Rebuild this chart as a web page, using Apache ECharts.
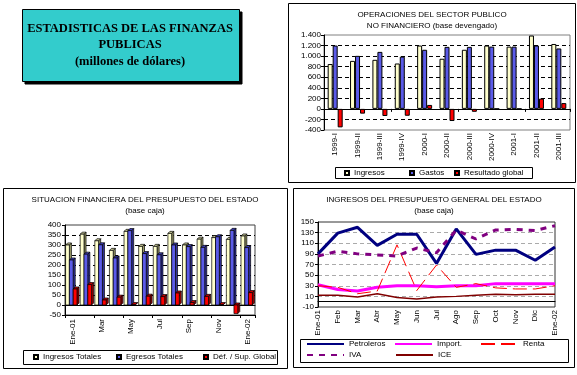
<!DOCTYPE html>
<html><head><meta charset="utf-8">
<script src="https://cdn.jsdelivr.net/npm/echarts@6/dist/echarts.min.js"></script>
<style>html,body{margin:0;padding:0;background:#fff}#c{width:577px;height:375px}</style>
</head><body><div id="c"></div>
<script>
// ---- Chart 1: Operaciones del sector público no financiero ----
const opCategories = ['1999-I','1999-II','1999-III','1999-IV','2000-I','2000-II','2000-III','2000-IV','2001-I','2001-II','2001-III'];
const opIngresos = [850, 910, 930, 860, 1200, 950, 1120, 1200, 1180, 1390, 1230];
const opGastos = [1200, 1005, 1080, 990, 1120, 1175, 1175, 1180, 1180, 1200, 1145];
const opResultado = [-350, -90, -135, -130, 75, -230, -55, 0, 0, 195, 110];

// ---- Chart 2: Situación financiera del presupuesto del estado ----
const sfCategories = ['Ene-01','Feb','Mar','Abr','May','Jun','Jul','Ago','Sep','Oct','Nov','Dic','Ene-02'];
const sfIngresos = [300, 354, 321, 273, 368, 293, 293, 358, 300, 329, 337, 328, 345];
const sfEgresos = [225, 254, 301, 235, 372, 257, 251, 300, 292, 288, 341, 373, 287];
const sfDeficit = [80, 102, 25, 39, 2, 44, 42, 60, 12, 43, 2, -43, 62];

// ---- Chart 3: Ingresos del presupuesto general del estado ----
const ipCategories = ['Ene-01','Feb','Mar','Abr','May','Jun','Jul','Ago','Sep','Oct','Nov','Dic','Ene-02'];
const ipPetroleros = [90, 129, 140, 106, 127, 127, 72, 137, 89, 97, 97, 78, 103];
const ipImport = [32, 23, 20, 27, 30, 30, 28, 30, 30, 34, 34, 34, 34];
const ipRenta = [30, 27, 15, 20, 107, 21, 69, 27, 34, 26, 24, 24, 30];
const ipIVA = [86, 95, 90, 88, 86, 101, 92, 135, 118, 135, 136, 134, 143];
const ipICE = [12, 12, 9, 15, 8, 5, 9, 10, 12, 14, 13, 14, 14];

const FONT = 'Liberation Sans, Arial, sans-serif';
const chart = echarts.init(document.getElementById('c'), null, {renderer: 'canvas'});

function thousands(v) {
  const s = String(Math.abs(v));
  const t = s.length > 3 ? s.slice(0, s.length - 3) + '.' + s.slice(s.length - 3) : s;
  return (v < 0 ? '-' : '') + t;
}

function bar3D(k, front, side, top) {
  return function (params, api) {
    const i = api.value(0), v = api.value(1);
    const band = api.size([1, 0])[0];
    const pz = api.coord([i, 0]);
    const pv = api.coord([i, v]);
    const w = band * 0.26, d = band * 0.14;
    const x0 = pz[0] - (3 * w + d) / 2 + k * w;
    const yTop = Math.min(pz[1], pv[1]), yBot = Math.max(pz[1], pv[1]);
    const st = {stroke: '#000', lineWidth: 0.7};
    return {type: 'group', children: [
      {type: 'polygon', shape: {points: [[x0 + w, yTop], [x0 + w + d, yTop - d], [x0 + w + d, yBot - d], [x0 + w, yBot]]}, style: Object.assign({fill: side}, st)},
      {type: 'polygon', shape: {points: [[x0, yTop], [x0 + d, yTop - d], [x0 + w + d, yTop - d], [x0 + w, yTop]]}, style: Object.assign({fill: top}, st)},
      {type: 'rect', shape: {x: x0, y: yTop, width: w, height: yBot - yTop}, style: Object.assign({fill: front}, st)}
    ]};
  };
}
function pairs(arr) { return arr.map((v, i) => [i, v]); }

const txt = (text, x, y, extra) => ({type: 'text', silent: true, style: Object.assign({text: text, x: x, y: y, fill: '#000', font: '8px ' + FONT, textAlign: 'center', textVerticalAlign: 'middle'}, extra || {})});
const box = (x, y, w, h, extra) => ({type: 'rect', silent: true, shape: {x: x, y: y, width: w, height: h}, style: Object.assign({fill: 'none', stroke: '#000', lineWidth: 1}, extra || {})});

const axisLabel = {color: '#000', fontSize: 8, fontFamily: FONT};
const legendText = {color: '#000', fontSize: 8, fontFamily: FONT};

function sqLegend(name, left, top) {
  return {data: [name], left: left, top: top, padding: 0, itemWidth: 4, itemHeight: 4, icon: 'rect',
    selectedMode: false, textStyle: legendText};
}
function lineLegend(name, left, top) {
  return {data: [name], left: left, top: top, padding: 0, itemWidth: 37, itemHeight: 8,
    selectedMode: false, itemStyle: {opacity: 0}, textStyle: legendText};
}

const option = {
  backgroundColor: '#fff',
  animation: false,
  graphic: [
    box(25, 12, 217, 72, {fill: '#000', stroke: '#000'}),
    box(22.5, 9.5, 217, 72, {fill: '#33CCCC'}),
    txt('ESTADISTICAS DE LAS FINANZAS', 130, 29, {font: 'bold 12.5px Liberation Serif, Times New Roman, serif'}),
    txt('PUBLICAS', 130, 45, {font: 'bold 12.5px Liberation Serif, Times New Roman, serif'}),
    txt('(millones de dólares)', 130, 62, {font: 'bold 12.5px Liberation Serif, Times New Roman, serif'}),
    box(288.5, 3.5, 287, 179),
    box(3.5, 188.5, 284, 180),
    box(293.5, 188.5, 281, 179),
    txt('OPERACIONES DEL SECTOR PUBLICO', 432, 15),
    txt('NO FINANCIERO (base devengado)', 432, 26),
    txt('SITUACION FINANCIERA DEL PRESUPUESTO DEL ESTADO', 145, 200),
    txt('(base caja)', 145, 211),
    txt('INGRESOS DEL PRESUPUESTO GENERAL DEL ESTADO', 434, 200),
    txt('(base caja)', 434, 211),
    box(335.5, 167.5, 197, 11),
    box(23.5, 350.5, 254, 14),
    box(300.5, 339.5, 268, 23)
  ],
  grid: [
    {left: 324, top: 35, width: 246, height: 95, show: true, borderColor: '#808080', borderWidth: 1},
    {left: 65, top: 225, width: 190, height: 90, show: true, borderColor: '#404040', borderWidth: 1},
    {left: 318, top: 222, width: 237, height: 85, show: true, borderColor: '#333', borderWidth: 1}
  ],
  xAxis: [
    {gridIndex: 0, type: 'category', data: opCategories, position: 'bottom',
     axisLine: {show: false, onZero: false}, axisTick: {show: false},
     axisLabel: Object.assign({rotate: 90, interval: 0, margin: 3}, axisLabel)},
    {gridIndex: 0, type: 'category', data: opCategories, position: 'bottom',
     axisLine: {show: true, onZero: true, lineStyle: {color: '#000', width: 1}},
     axisTick: {show: true, length: 3, lineStyle: {color: '#000'}}, axisLabel: {show: false}},
    {gridIndex: 1, type: 'category', data: sfCategories, position: 'bottom',
     axisLine: {show: true, onZero: false, lineStyle: {color: '#000'}},
     axisTick: {show: true, length: 3, lineStyle: {color: '#000'}},
     axisLabel: Object.assign({rotate: 90, interval: 1, margin: 4}, axisLabel)},
    {gridIndex: 1, type: 'category', data: sfCategories, position: 'bottom',
     axisLine: {show: true, onZero: true, lineStyle: {color: '#000'}},
     axisTick: {show: false}, axisLabel: {show: false}},
    {gridIndex: 2, type: 'category', data: ipCategories, boundaryGap: false, position: 'bottom',
     axisLine: {show: false, onZero: false}, axisTick: {show: false},
     axisLabel: Object.assign({rotate: 90, interval: 0, margin: 3}, axisLabel)},
    {gridIndex: 2, type: 'category', data: ipCategories, boundaryGap: false, position: 'bottom',
     axisLine: {show: true, onZero: true, lineStyle: {color: '#000'}},
     axisTick: {show: false}, axisLabel: {show: false}}
  ],
  yAxis: [
    {gridIndex: 0, type: 'value', min: -400, max: 1400, interval: 200,
     axisLine: {show: true, lineStyle: {color: '#000'}}, axisTick: {show: true, length: 3, lineStyle: {color: '#000'}},
     axisLabel: Object.assign({margin: 3, formatter: thousands}, axisLabel),
     splitLine: {show: true, showMinLine: false, showMaxLine: false, lineStyle: {color: '#000', type: [4, 3], width: 1}}},
    {gridIndex: 1, type: 'value', min: -50, max: 400, interval: 50,
     axisLine: {show: true, lineStyle: {color: '#000'}}, axisTick: {show: true, length: 3, lineStyle: {color: '#000'}},
     axisLabel: Object.assign({margin: 4}, axisLabel),
     splitLine: {show: true, showMinLine: false, showMaxLine: false, lineStyle: {color: '#000', type: [4, 3], width: 1}}},
    {gridIndex: 2, type: 'value', min: -10, max: 150, interval: 20,
     axisLine: {show: true, lineStyle: {color: '#000'}}, axisTick: {show: true, length: 3, lineStyle: {color: '#000'}},
     axisLabel: Object.assign({margin: 4}, axisLabel),
     splitLine: {show: true, showMinLine: false, showMaxLine: false, lineStyle: {color: '#AAAAAA', type: [4, 3], width: 1}}}
  ],
  legend: [
    sqLegend('Ingresos', 344, 169),
    sqLegend('Gastos', 409, 169),
    sqLegend('Resultado global', 454, 169),
    sqLegend('Ingresos Totales', 33, 353),
    sqLegend('Egresos Totales', 116, 353),
    sqLegend('Déf. / Sup. Global', 203, 353),
    lineLegend('Petroleros', 306, 340),
    lineLegend('Import.', 394, 340),
    lineLegend('Renta', 480, 340),
    lineLegend('IVA', 306, 351),
    lineLegend('ICE', 395, 351)
  ],
  series: [
    {name: 'Ingresos', type: 'bar', xAxisIndex: 0, yAxisIndex: 0, data: opIngresos, barWidth: 5, barGap: '0%',
     itemStyle: {color: '#FFFFCC', borderColor: '#000', borderWidth: 1}},
    {name: 'Gastos', type: 'bar', xAxisIndex: 0, yAxisIndex: 0, data: opGastos, barWidth: 5, barGap: '0%',
     itemStyle: {color: '#5B5BE8', borderColor: '#000', borderWidth: 1}},
    {name: 'Resultado global', type: 'bar', xAxisIndex: 0, yAxisIndex: 0, data: opResultado, barWidth: 5, barGap: '0%',
     itemStyle: {color: '#FF0000', borderColor: '#000', borderWidth: 1}},

    {name: 'Ingresos Totales', type: 'custom', xAxisIndex: 2, yAxisIndex: 1, data: pairs(sfIngresos), clip: false,
     encode: {x: 0, y: 1}, renderItem: bar3D(0, '#FFFFCC', '#999966', '#CCCC99'),
     itemStyle: {color: '#FFFFCC', borderColor: '#000', borderWidth: 1}},
    {name: 'Egresos Totales', type: 'custom', xAxisIndex: 2, yAxisIndex: 1, data: pairs(sfEgresos), clip: false,
     encode: {x: 0, y: 1}, renderItem: bar3D(1, '#5B5BE8', '#30309A', '#4040C0'),
     itemStyle: {color: '#5B5BE8', borderColor: '#000', borderWidth: 1}},
    {name: 'Déf. / Sup. Global', type: 'custom', xAxisIndex: 2, yAxisIndex: 1, data: pairs(sfDeficit), clip: false,
     encode: {x: 0, y: 1}, renderItem: bar3D(2, '#FF0000', '#990000', '#CC0000'),
     itemStyle: {color: '#FF0000', borderColor: '#000', borderWidth: 1}},

    {name: 'Petroleros', type: 'line', xAxisIndex: 4, yAxisIndex: 2, data: ipPetroleros, symbol: 'none',
     lineStyle: {color: '#000080', width: 3}, itemStyle: {color: '#000080'}},
    {name: 'Import.', type: 'line', xAxisIndex: 4, yAxisIndex: 2, data: ipImport, symbol: 'none',
     lineStyle: {color: '#FF00FF', width: 3}, itemStyle: {color: '#FF00FF'}},
    {name: 'Renta', type: 'line', xAxisIndex: 4, yAxisIndex: 2, data: ipRenta, symbol: 'none',
     lineStyle: {color: '#FF0000', width: 1, type: [14, 6]}, itemStyle: {color: '#FF0000'}},
    {name: 'IVA', type: 'line', xAxisIndex: 4, yAxisIndex: 2, data: ipIVA, symbol: 'none',
     lineStyle: {color: '#800080', width: 3, type: [6, 6]}, itemStyle: {color: '#800080'}},
    {name: 'ICE', type: 'line', xAxisIndex: 4, yAxisIndex: 2, data: ipICE, symbol: 'none',
     lineStyle: {color: '#800000', width: 1.5}, itemStyle: {color: '#800000'}}
  ]
};
chart.setOption(option);
</script>
</body></html>
